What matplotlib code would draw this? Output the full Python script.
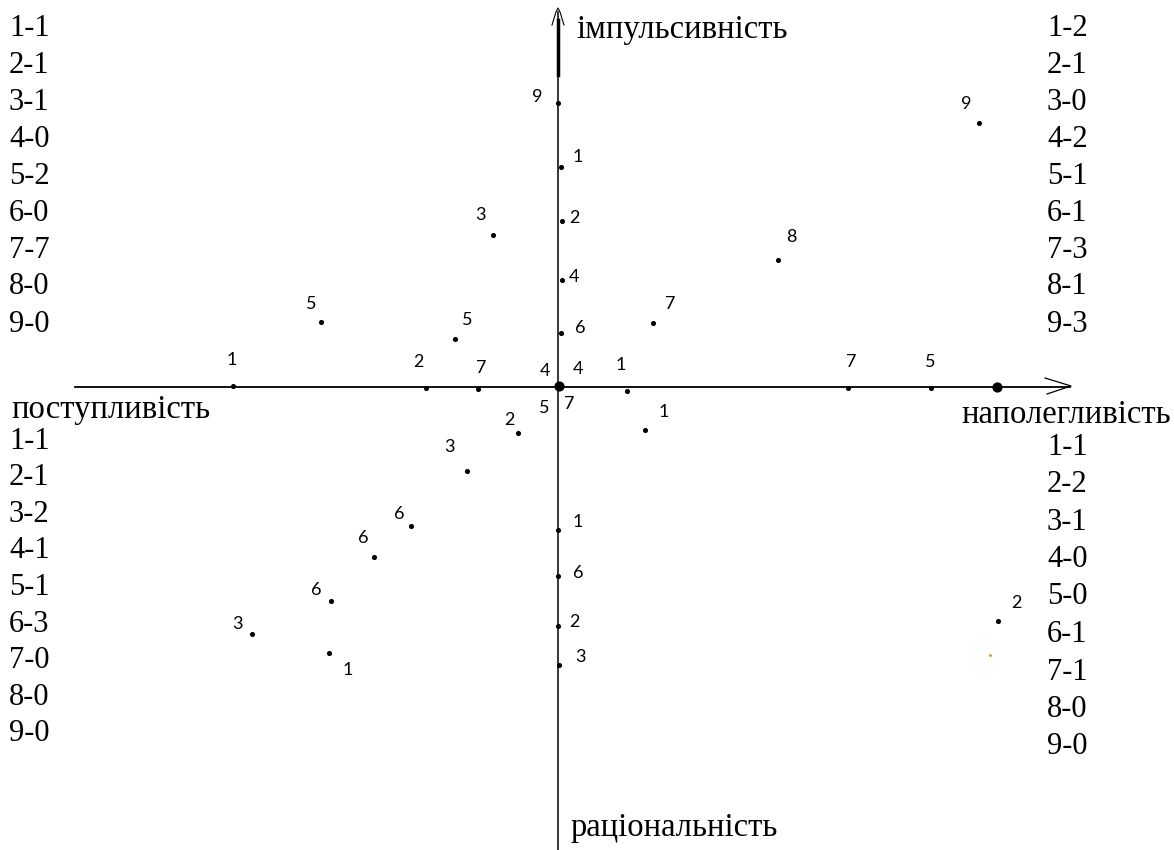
import matplotlib
matplotlib.use("Agg")
import matplotlib.pyplot as plt

# corner score lists
left_top = ["1-1", "2-1", "3-1", "4-0", "5-2", "6-0", "7-7", "8-0", "9-0"]
right_top = ["1-2", "2-1", "3-0", "4-2", "5-1", "6-1", "7-3", "8-1", "9-3"]
left_bottom = ["1-1", "2-1", "3-2", "4-1", "5-1", "6-3", "7-0", "8-0", "9-0"]
right_bottom = ["1-1", "2-2", "3-1", "4-0", "5-0", "6-1", "7-1", "8-0", "9-0"]

axis_names = ["імпульсивність", "поступливість", "наполегливість", "раціональність"]

# points on the diagram (x, y in picture units, y grows downward)
pt_x = [558, 561, 562, 562, 561, 493, 321, 455, 233, 426, 478, 627, 645, 653,
        778, 979, 848, 931, 518, 467, 411, 374, 331, 252, 329, 558, 558, 558,
        559, 998]
pt_y = [103, 167, 221, 280, 333, 235, 322, 339, 386, 388, 389, 391, 430, 323,
        260, 123, 388, 388, 433, 471, 526, 557, 601, 634, 653, 530, 576, 626,
        665, 621]
pt_lab = ["9", "1", "2", "4", "6", "3", "5", "5", "1", "2", "7", "1", "1", "7",
          "8", "9", "7", "5", "2", "3", "6", "6", "6", "3", "1", "1", "6", "2",
          "3", "2"]
# label offsets from the point
lab_dx = [-21, 17, 12, 12, 19, -13, -10, 12, -1, -8, 3, -6, 19, 17,
          13, -13, 3, -1, -9, -18, -12, -11, -15, -15, 19, 20, 20, 16,
          21, 18]
lab_dy = [-6, -10, -3, -3, -5, -20, -18, -19, -26, -26, -21, -26, -18, -19,
          -23, -19, -26, -26, -13, -24, -12, -19, -11, -10, 17, -8, -3, -4,
          -8, -18]

# big dots and extra labels
big_x = [559, 997]
big_y = [386, 387]
extra_lab = ["4", "4", "5", "7"]
extra_x = [545, 578, 544, 569]
extra_y = [371, 369, 408, 404]

fig = plt.figure(figsize=(11.74, 8.5), dpi=100)
ax = fig.add_axes([0, 0, 1, 1])
ax.set_xlim(0, 1174)
ax.set_ylim(850, 0)
ax.axis("off")

# axes lines
ax.plot([75, 1070], [387, 387], color="black", lw=1.3)
ax.plot([1045, 1071, 1047], [378, 386, 394], color="black", lw=0.9)
ax.plot([558, 558], [12, 850], color="black", lw=1.1)
ax.plot([558, 558], [20, 75], color="black", lw=2.5)
ax.plot([552, 556, 558, 560, 564], [25, 12, 8, 12, 25], color="black", lw=0.8)

ax.scatter(pt_x, pt_y, s=7, color="black", zorder=3)
ax.scatter(big_x, big_y, s=40, color="black", zorder=3)
ax.scatter([990], [655], s=1, color="#e08040")

sans = ["Lato", "DejaVu Sans"]
for x, y, t, dx, dy in zip(pt_x, pt_y, pt_lab, lab_dx, lab_dy):
    ax.text(x + dx, y + dy, t, fontsize=13, family=sans, ha="center", va="center")
for x, y, t in zip(extra_x, extra_y, extra_lab):
    ax.text(x, y, t, fontsize=13, family=sans, ha="center", va="center")

serif = ["Liberation Serif", "DejaVu Serif"]
for i, t in enumerate(left_top):
    ax.text(9, 28 + i * 37, t, fontsize=22, family=serif, va="center")
for i, t in enumerate(right_top):
    ax.text(1047, 28 + i * 37, t, fontsize=22, family=serif, va="center")
for i, t in enumerate(left_bottom):
    ax.text(9, 441 + i * 36.6, t, fontsize=22, family=serif, va="center")
for i, t in enumerate(right_bottom):
    ax.text(1047, 447 + i * 37.5, t, fontsize=22, family=serif, va="center")

ax.text(576, 30, axis_names[0], fontsize=23.5, family=serif, va="center")
ax.text(11, 410, axis_names[1], fontsize=23.5, family=serif, va="center")
ax.text(961, 415, axis_names[2], fontsize=23.5, family=serif, va="center")
ax.text(571, 828, axis_names[3], fontsize=23.5, family=serif, va="center")

fig.savefig("out.png", dpi=100)
